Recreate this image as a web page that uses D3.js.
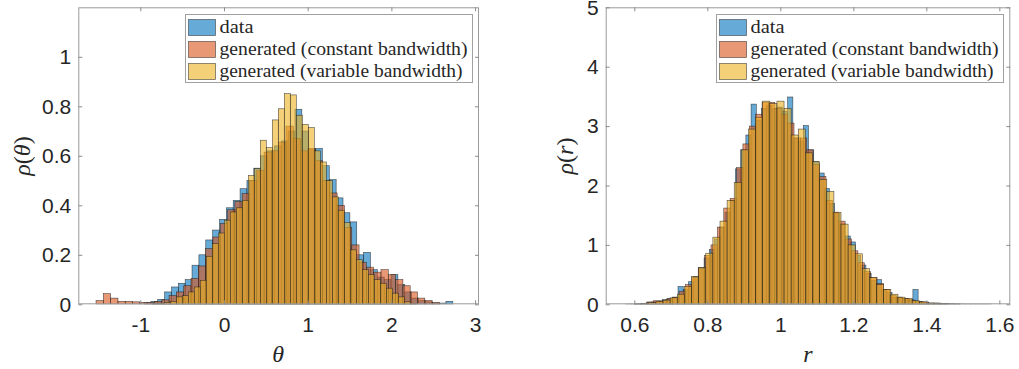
<!DOCTYPE html>
<html>
<head>
<meta charset="utf-8">
<script src="https://cdn.jsdelivr.net/npm/d3@7"></script>
<style>
    body { margin: 0; background: #fff; }
    svg { display: block; }
    .tick text { font-family: "Liberation Sans", Arial, Helvetica, sans-serif; font-size: 21px; fill: #262626; }
    .tick line { stroke: #8c8c8c; }
    .legend text { font-family: "Liberation Serif", "Times New Roman", serif; font-size: 18px; fill: #262626; }
    .axis-label { font-family: "Liberation Serif", "Times New Roman", serif; font-size: 24px; fill: #262626; }
</style>
</head>
<body>
<div id="chart"></div>
<script>

// series names + MATLAB default colours
const seriesNames = ["data", "generated (constant bandwidth)", "generated (variable bandwidth)"];
const seriesColors = ["#0072BD", "#D95319", "#EDB120"];

// ---- theta histograms (first bin edge, bin width, pdf value per bin) ----
const thetaDataEdge0 = -0.956, thetaDataWidth = 0.082;
const thetaData = [0.006, 0.012, 0.02, 0.05, 0.07, 0.085, 0.10, 0.158, 0.20, 0.26,
    0.30, 0.343, 0.39, 0.42, 0.467, 0.50, 0.55, 0.60, 0.62, 0.64,
    0.66, 0.70, 0.788, 0.70, 0.625, 0.63, 0.56, 0.504, 0.43, 0.37,
    0.333, 0.20, 0.21, 0.14, 0.11, 0.10, 0.12, 0.08, 0.05, 0.025,
    0.015, 0.01, 0.005, 0.005, 0.012];

const thetaConstEdge0 = -1.529, thetaConstWidth = 0.0873;
const thetaConst = [0.015, 0.043, 0.025, 0.012, 0.012, 0.01, 0.008, 0.008, 0.012, 0.018,
    0.035, 0.05, 0.075, 0.105, 0.155, 0.225, 0.272, 0.326, 0.382, 0.415,
    0.447, 0.50, 0.54, 0.615, 0.62, 0.655, 0.72, 0.67, 0.62, 0.63,
    0.58, 0.50, 0.45, 0.40, 0.31, 0.24, 0.17, 0.15, 0.13, 0.14,
    0.12, 0.10, 0.075, 0.05, 0.025, 0.015, 0.008];

const thetaVarEdge0 = -0.857, thetaVarWidth = 0.0717;
const thetaVar = [0.002, 0.004, 0.008, 0.012, 0.03, 0.035, 0.05, 0.07, 0.097, 0.194,
    0.245, 0.288, 0.34, 0.373, 0.39, 0.42, 0.521, 0.548, 0.663, 0.633,
    0.745, 0.79, 0.851, 0.846, 0.764, 0.727, 0.714, 0.62, 0.575, 0.50,
    0.434, 0.38, 0.33, 0.22, 0.18, 0.14, 0.12, 0.10, 0.085, 0.065,
    0.045, 0.03, 0.01, 0.004];

// ---- r histograms ----
const rDataEdge0 = 0.5767, rDataWidth = 0.0143;
const rData = [0.003, 0.003, 0.005, 0.01, 0.03, 0.04, 0.05, 0.08, 0.10, 0.12,
    0.30, 0.25, 0.38, 0.47, 0.62, 0.78, 0.92, 1.10, 1.30, 1.55,
    1.75, 2.28, 2.60, 2.85, 3.37, 3.10, 3.30, 3.35, 3.30, 3.32,
    3.25, 3.49, 2.80, 2.75, 3.01, 2.60, 2.40, 2.21, 1.95, 1.70,
    1.53, 1.35, 1.15, 1.05, 0.82, 0.66, 0.52, 0.40, 0.415, 0.25,
    0.20, 0.12, 0.11, 0.10, 0.08, 0.25, 0.04, 0.03, 0.02, 0.02,
    0.01, 0.01, 0.006, 0.006, 0.004, 0.003, 0.003, 0.003, 0.003, 0.003];

const rConstEdge0 = 0.600, rConstWidth = 0.0175;
const rConst = [0.005, 0.01, 0.04, 0.06, 0.06, 0.09, 0.12, 0.22, 0.33, 0.45,
    0.60, 0.82, 1.00, 1.30, 1.62, 1.78, 2.30, 2.70, 3.00, 3.20,
    3.40, 3.40, 3.30, 3.20, 3.05, 2.80, 2.80, 2.60, 2.35, 2.15,
    1.75, 1.55, 1.40, 1.10, 0.90, 0.70, 0.55, 0.45, 0.35, 0.25,
    0.15, 0.12, 0.10, 0.07, 0.05, 0.04, 0.02, 0.02, 0.01, 0.008, 0.005];

const rVarEdge0 = 0.6007, rVarWidth = 0.0195;
const rVar = [0.005, 0.01, 0.03, 0.05, 0.07, 0.11, 0.17, 0.30, 0.47, 0.62,
    0.86, 1.13, 1.40, 1.75, 2.05, 2.60, 2.95, 3.15, 3.42, 3.38,
    3.42, 3.30, 2.85, 2.95, 2.55, 2.40, 2.10, 1.90, 1.55, 1.35,
    1.00, 0.85, 0.60, 0.45, 0.33, 0.25, 0.17, 0.12, 0.10, 0.06,
    0.04, 0.02, 0.01, 0.005];

// ticks
const thetaTicksX = [-1, 0, 1, 2, 3];
const thetaTicksY = [0, 0.2, 0.4, 0.6, 0.8, 1];
const rTicksX = [0.6, 0.8, 1, 1.2, 1.4, 1.6];
const rTicksY = [0, 1, 2, 3, 4, 5];


class HistPanel {

    constructor(_svg, _config, _series) {
        this.svg = _svg;
        this.config = _config;
        this.series = _series;
        this.initVis();
    }

    initVis() {
        let vis = this;
        let c = vis.config;

        vis.g = vis.svg.append("g");

        vis.x = d3.scaleLinear().domain(c.xDomain).range([c.left, c.right]);
        vis.y = d3.scaleLinear().domain(c.yDomain).range([c.bottom, c.top]);

        vis.clipId = "clip-" + c.id;
        vis.svg.append("clipPath").attr("id", vis.clipId)
            .append("rect")
            .attr("x", c.left).attr("y", c.top)
            .attr("width", c.right - c.left).attr("height", c.bottom - c.top);

        vis.wrangleData();
    }

    wrangleData() {
        let vis = this;
        // turn (edge0, width, values) into bins
        vis.displayData = vis.series.map((s, si) => s.values.map((v, i) => ({
            x0: s.edge0 + i * s.width,
            x1: s.edge0 + (i + 1) * s.width,
            v: v,
            color: seriesColors[si]
        })));
        vis.updateVis();
    }

    updateVis() {
        let vis = this;
        let c = vis.config;

        let barG = vis.g.append("g").attr("clip-path", "url(#" + vis.clipId + ")");

        vis.displayData.forEach((bins, si) => {
            barG.append("g")
                .selectAll("rect")
                .data(bins)
                .enter()
                .append("rect")
                .attr("x", d => vis.x(d.x0))
                .attr("width", d => vis.x(d.x1) - vis.x(d.x0))
                .attr("y", d => vis.y(d.v))
                .attr("height", d => vis.y(0) - vis.y(d.v))
                .attr("fill", d => d.color)
                .attr("fill-opacity", 0.6)
                .attr("stroke", "#1a1a1a")
                .attr("stroke-opacity", 0.75)
                .attr("stroke-width", 0.6);
        });

        // box
        vis.g.append("rect")
            .attr("x", c.left + 0.5).attr("y", c.top + 0.5)
            .attr("width", c.right - c.left - 1).attr("height", c.bottom - c.top - 1)
            .attr("fill", "none")
            .attr("stroke", "#9a9a9a")
            .attr("stroke-width", 1);

        // axes, ticks pointing inwards like matlab
        let fmt = d => String(d);
        vis.g.append("g").attr("transform", "translate(0," + c.bottom + ")")
            .call(d3.axisBottom(vis.x).tickValues(c.xTicks).tickSize(-4).tickPadding(13).tickFormat(fmt))
            .call(g => g.select(".domain").remove());
        vis.g.append("g").attr("transform", "translate(0," + c.top + ")")
            .call(d3.axisTop(vis.x).tickValues(c.xTicks).tickSize(-4).tickFormat(""))
            .call(g => g.select(".domain").remove());
        vis.g.append("g").attr("transform", "translate(" + c.left + ",0)")
            .call(d3.axisLeft(vis.y).tickValues(c.yTicks).tickSize(-4).tickPadding(7).tickFormat(fmt))
            .call(g => g.select(".domain").remove());
        vis.g.append("g").attr("transform", "translate(" + c.right + ",0)")
            .call(d3.axisRight(vis.y).tickValues(c.yTicks).tickSize(-4).tickFormat(""))
            .call(g => g.select(".domain").remove());

        vis.g.selectAll(".tick text").attr("fill", "#262626");

        // axis labels (latex style: italic symbols, upright parens)
        let xl = vis.g.append("text").attr("class", "axis-label")
            .attr("x", (c.left + c.right) / 2 + c.xLabelDx).attr("y", 362)
            .attr("text-anchor", "middle")
            .style("font-style", "italic")
            .text(c.xSymbol);

        let yl = vis.g.append("text").attr("class", "axis-label")
            .attr("transform", "translate(" + c.yLabelX + ",156) rotate(-90)")
            .attr("text-anchor", "middle");
        yl.append("tspan").style("font-style", "italic").text("ρ");
        yl.append("tspan").text("(");
        yl.append("tspan").style("font-style", "italic").text(c.xSymbol);
        yl.append("tspan").text(")");

        // legend
        let lg = vis.g.append("g").attr("class", "legend");
        lg.append("rect")
            .attr("x", c.legendX + 0.5).attr("y", 14.5)
            .attr("width", 287).attr("height", 68)
            .attr("fill", "#fff")
            .attr("stroke", "#a0a0a0")
            .attr("stroke-width", 1);

        let textWidths = [34, 248, 243];
        seriesNames.forEach((name, i) => {
            lg.append("rect")
                .attr("x", c.legendX + 3.5).attr("y", 19.5 + i * 22)
                .attr("width", 27).attr("height", 16)
                .attr("fill", seriesColors[i])
                .attr("fill-opacity", 0.6)
                .attr("stroke", "#1a1a1a")
                .attr("stroke-opacity", 0.6)
                .attr("stroke-width", 0.8);
            lg.append("text")
                .attr("x", c.legendX + 34.5).attr("y", 32.5 + i * 22)
                .attr("textLength", textWidths[i])
                .attr("lengthAdjust", "spacingAndGlyphs")
                .text(name);
        });
    }
}

const svg = d3.select("#chart").append("svg")
    .attr("width", 1019)
    .attr("height", 369);

new HistPanel(svg, {
    id: "theta",
    left: 78.3, right: 479, top: 7.3, bottom: 304.3,
    xDomain: [-1.741, 3.047], yDomain: [0, 1.2],
    xTicks: thetaTicksX, yTicks: thetaTicksY,
    xSymbol: "θ", xLabelDx: -0.5, yLabelX: 30,
    legendX: 185
}, [
    {edge0: thetaDataEdge0, width: thetaDataWidth, values: thetaData},
    {edge0: thetaConstEdge0, width: thetaConstWidth, values: thetaConst},
    {edge0: thetaVarEdge0, width: thetaVarWidth, values: thetaVar}
]);

new HistPanel(svg, {
    id: "r",
    left: 605.7, right: 1010.3, top: 7.3, bottom: 304.3,
    xDomain: [0.5216, 1.630], yDomain: [0, 5],
    xTicks: rTicksX, yTicks: rTicksY,
    xSymbol: "r", xLabelDx: 0, yLabelX: 573,
    legendX: 716
}, [
    {edge0: rDataEdge0, width: rDataWidth, values: rData},
    {edge0: rConstEdge0, width: rConstWidth, values: rConst},
    {edge0: rVarEdge0, width: rVarWidth, values: rVar}
]);

</script>
</body>
</html>
